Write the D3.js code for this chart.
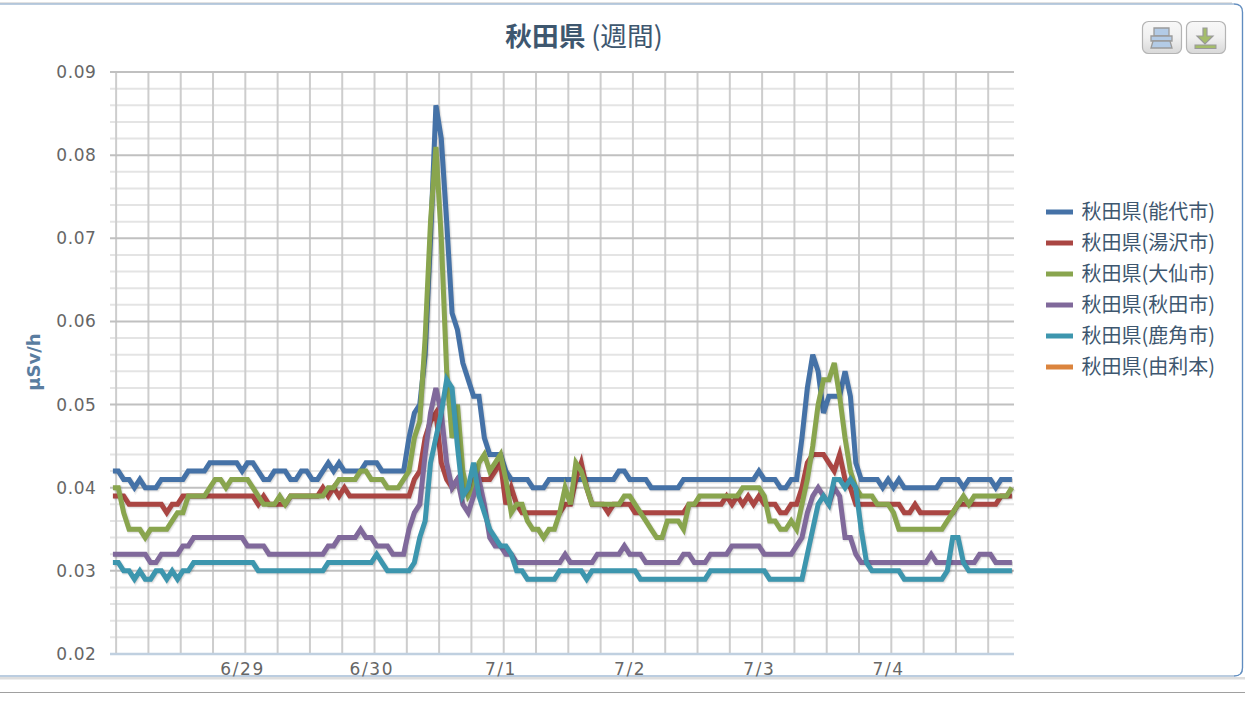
<!DOCTYPE html>
<html><head><meta charset="utf-8">
<script src="https://cdn.jsdelivr.net/npm/d3@7"></script>
<style>
html,body{margin:0;padding:0;background:#fff;overflow:hidden}
svg{display:block}
text{font-family:"DejaVu Sans",sans-serif}
.cjk{font-family:"Noto Sans CJK JP",sans-serif}
</style></head><body>
<svg id="c" width="1245" height="702"></svg>
<script>
const title = "秋田県";
const titleSuffix = " (週間)";
const yAxisTitle = "µSv/h";
const dayLabels = ["6/29","6/30","7/1","7/2","7/3","7/4"];
const yTicks = [0.02,0.03,0.04,0.05,0.06,0.07,0.08,0.09];
const seriesNames = ["秋田県(能代市)","秋田県(湯沢市)","秋田県(大仙市)","秋田県(秋田市)","秋田県(鹿角市)","秋田県(由利本)"];
const seriesColors = ["#4572A7","#AA4643","#89A54E","#80699B","#3D96AE","#DB843D"];
// hourly readings, in units of 0.001 µSv/h
const noshiro = [42,42,41,41,40,41,40,40,40,41,41,41,41,41,42,42,42,42,43,43,43,43,43,43,42,43,43,42,41,41,42,42,42,41,41,42,42,41,41,42,43,42,43,42,42,42,42,43,43,43,42,42,42,42,42,46,49,50,56,70,86,82,72,61,59,55,53,51,51,46,44,44,44,42,41,41,41,41,40,40,40,41,41,41,41,41,41,41,41,41,41,41,41,41,42,42,41,41,41,41,40,40,40,40,40,40,41,41,41,41,41,41,41,41,41,41,41,41,41,41,42,41,41,41,40,40,41,41,46,52,56,54,49,51,51,51,54,51,43,41,41,41,41,40,41,40,41,40,40,40,40,40,40,40,41,41,41,41,40,41,41,41,41,41,40,41,41,41];
const yuzawa = [39,39,39,38,38,38,38,38,38,38,37,38,38,39,39,39,39,39,39,39,39,39,39,39,39,39,39,38,39,38,38,38,38,39,39,39,39,39,39,40,39,40,39,40,39,39,39,39,39,39,39,39,39,39,39,39,41,42,46,48,49,43,41,40,41,40,40,41,41,41,41,42,43,38,40,38,37,37,37,37,37,37,37,37,38,38,41,43,40,38,38,38,37,38,38,38,38,37,37,37,37,37,37,37,37,37,37,38,38,38,38,38,38,38,39,38,39,38,39,38,39,38,38,38,37,37,38,38,40,43,44,44,44,43,42,44,41,40,38,38,38,38,38,38,38,38,38,37,37,38,37,37,37,37,37,37,37,38,38,38,38,38,38,38,38,39,39,39];
const daisen = [40,40,37,35,35,35,34,35,35,35,35,36,37,37,39,39,39,39,40,41,41,40,41,41,41,41,40,39,38,38,38,39,38,39,39,39,39,39,39,39,40,40,41,41,41,41,42,42,41,41,41,40,40,40,41,42,46,48,58,72,81,70,54,46,50,42,39,40,43,44,42,43,44,41,37,38,38,36,35,35,34,35,35,37,40,38,43,42,40,38,38,38,38,38,38,39,39,38,37,36,35,34,34,36,36,36,35,38,38,39,39,39,39,39,39,39,39,40,40,40,40,39,36,36,35,35,36,35,38,41,45,50,53,53,55,51,46,42,40,39,39,39,38,38,38,37,35,35,35,35,35,35,35,35,35,36,37,38,39,38,39,39,39,39,39,39,39,40];
const akita = [32,32,32,32,32,32,32,31,31,32,32,32,32,33,33,34,34,34,34,34,34,34,34,34,34,33,33,33,33,32,32,32,32,32,32,32,32,32,32,32,33,33,34,34,34,34,35,34,34,33,33,33,32,32,32,35,37,38,44,49,52,49,43,40,41,38,37,39,41,38,34,33,33,32,32,31,31,31,31,31,31,31,31,31,32,31,31,31,31,31,32,32,32,32,32,33,32,32,32,31,31,31,31,31,31,31,32,32,31,31,31,32,32,32,32,33,33,33,33,33,33,32,32,32,32,32,32,33,34,37,39,40,39,38,40,39,34,34,32,31,31,31,31,31,31,31,31,31,31,31,31,31,32,31,31,31,31,31,31,31,31,32,32,32,31,31,31,31];
const kazuno = [31,31,30,30,29,30,29,29,30,30,29,30,29,30,30,31,31,31,31,31,31,31,31,31,31,31,31,30,30,30,30,30,30,30,30,30,30,30,30,30,31,31,31,31,31,31,31,31,31,32,31,30,30,30,30,30,31,34,36,43,46,49,53,52,45,39,40,43,39,37,35,34,33,33,32,30,30,29,29,29,29,29,29,30,30,30,30,30,29,30,30,30,30,30,30,30,30,30,29,29,29,29,29,29,29,29,29,29,29,29,29,30,30,30,30,30,30,30,30,30,30,30,29,29,29,29,29,29,29,32,35,38,39,38,41,41,40,41,40,35,31,30,30,30,30,30,30,29,29,29,29,29,29,29,29,30,34,34,31,30,30,30,30,30,30,30,30,30];
const yurihonjo = [];
const allSeries = [noshiro,yuzawa,daisen,akita,kazuno,yurihonjo];

const svg = d3.select("#c");
const x = d3.scaleLinear().domain([0,167]).range([112.9,1011.9]);
const y = d3.scaleLinear().domain([0.02,0.09]).range([654,72]);
const L=110,R=1014;

// page frame
svg.append("rect").attr("x",0).attr("y",2).attr("width",1232).attr("height",2).attr("fill","#e2e2e2");
svg.append("rect").attr("x",0).attr("y",677).attr("width",1245).attr("height",2.5).attr("fill","#dedede");
svg.append("rect").attr("x",0).attr("y",692).attr("width",1245).attr("height",1).attr("fill","#a0a0a0");
svg.append("path").attr("d","M0,4 H1234 Q1242.5,4 1242.5,12 V668 Q1242.5,676 1234,676 H0")
  .attr("fill","#fff").attr("stroke","#a5bdd6").attr("stroke-width",1.3);
svg.append("path").attr("d","M1234,4 Q1242.5,4 1242.5,12 M1242.5,668 Q1242.5,676 1234,676 M1242.5,12 V668")
  .attr("fill","none").attr("stroke","#5f8cc0").attr("stroke-width",1.2);

// grid
const minorY = d3.range(0,36).map(i=>0.02+i*0.002).filter(v=>Math.round(v*1000)%10!==0);
svg.append("g").selectAll("line").data(minorY).join("line")
  .attr("x1",L).attr("x2",R).attr("y1",d=>y(d)).attr("y2",d=>y(d))
  .attr("stroke","#e4e4e4").attr("stroke-width",2);
const majorX = d3.range(0,28).map(k=>0.6+6*k);
svg.append("g").selectAll("line").data(majorX).join("line")
  .attr("x1",d=>x(d)).attr("x2",d=>x(d)).attr("y1",72).attr("y2",654)
  .attr("stroke","#cdcdcd").attr("stroke-width",2);
svg.append("g").selectAll("line").data(yTicks.slice(1)).join("line")
  .attr("x1",L).attr("x2",R).attr("y1",d=>y(d)).attr("y2",d=>y(d))
  .attr("stroke","#c0c0c0").attr("stroke-width",2);
svg.append("line").attr("x1",L).attr("x2",R).attr("y1",654).attr("y2",654).attr("stroke","#c0d0e0").attr("stroke-width",2.4);

// axes labels
const yAxis = d3.axisLeft(y).tickValues(yTicks).tickFormat(d3.format(".2f")).tickSize(0).tickPadding(0);
const gy = svg.append("g").attr("transform","translate(96.5,-0.5)").call(yAxis);
gy.select(".domain").remove();
gy.selectAll("text").attr("fill","#666").attr("font-size",17).attr("letter-spacing",0.6).attr("dy","0.35em")
  .style("font-family",'"DejaVu Sans",sans-serif');
const dayIdx = dayLabels.map((d,i)=>23.9+24*i);
const xAxis = d3.axisBottom(x).tickValues(dayIdx).tickFormat((d,i)=>dayLabels[i]).tickSize(0).tickPadding(0);
const gx = svg.append("g").attr("transform","translate(0.5,663)").call(xAxis);
gx.select(".domain").remove();
gx.selectAll("text").attr("fill","#666").attr("font-size",17).attr("letter-spacing",1.6).attr("dy","0.71em")
  .style("font-family",'"DejaVu Sans",sans-serif');

svg.append("text").attr("transform","translate(39.5,362) rotate(-90)").attr("text-anchor","middle")
  .attr("fill","#5a7da0").attr("font-size",18).attr("font-weight","bold").text(yAxisTitle);

// title
const t = svg.append("text").attr("class","cjk").attr("x",584).attr("y",46).attr("text-anchor","middle")
  .attr("fill","#3E576F").attr("font-size",26.7);
t.append("tspan").attr("font-weight","bold").text(title);
t.append("tspan").attr("font-weight","normal").text(titleSuffix);

// series
const line = d3.line().x((d,i)=>x(i)).y(d=>y(d/1000)).curve(d3.curveLinear);
const sg = svg.append("g");
allSeries.forEach((s,i)=>{
  if(!s.length) return;
  [[7,0.05],[5,0.07],[3,0.1]].forEach(([w,o])=>{
    sg.append("path").datum(s).attr("d",line).attr("fill","none").attr("stroke","#000")
      .attr("stroke-width",w).attr("opacity",o).attr("transform","translate(1,1)");
  });
  sg.append("path").datum(s).attr("d",line).attr("fill","none").attr("stroke",seriesColors[i])
    .attr("stroke-width",5);
});

// legend
const lg = svg.append("g").selectAll("g").data(seriesNames).join("g")
  .attr("transform",(d,i)=>`translate(1046,${212+i*31})`);
lg.append("line").attr("x1",0).attr("x2",27).attr("y1",0).attr("y2",0)
  .attr("stroke",(d,i)=>seriesColors[i]).attr("stroke-width",5);
lg.append("text").attr("class","cjk").attr("x",35.5).attr("y",6.8).attr("fill","#3E576F").attr("font-size",20).text(d=>d);

// buttons
function button(bx,draw){
  const g = svg.append("g").attr("transform",`translate(${bx},21)`);
  const id="bg"+bx;
  const gr=svg.append("defs").append("linearGradient").attr("id",id).attr("x1",0).attr("x2",0).attr("y1",0).attr("y2",1);
  gr.append("stop").attr("offset","0%").attr("stop-color","#f8f8f8");
  gr.append("stop").attr("offset","50%").attr("stop-color","#f0f0f0");
  gr.append("stop").attr("offset","100%").attr("stop-color","#d8d8d8");
  g.append("rect").attr("x",.5).attr("y",.5).attr("width",39).attr("height",32).attr("rx",6)
    .attr("fill",`url(#${id})`).attr("stroke","#b4b4b4").attr("stroke-width",1.2);
  draw(g);
}
button(1142,g=>{
  const st={fill:"#b3cbe6",stroke:"#9a9a9a"};
  [["M12,7H27V15H12Z"],["M9,15H30V20H9Z"],["M11,20H28L30,27H9Z"]].forEach(([d])=>
    g.append("path").attr("d",d).attr("fill",st.fill).attr("stroke",st.stroke).attr("stroke-width",1.3));
});
button(1186,g=>{
  g.append("path").attr("d","M17,7H21V15H27L19,23L11,15H17Z").attr("fill","#a4bd6a").attr("stroke","#9a9a9a").attr("stroke-width",1.2);
  g.append("rect").attr("x",9).attr("y",24).attr("width",21).attr("height",3.5).attr("fill","#a4bd6a").attr("stroke","#9a9a9a").attr("stroke-width",1);
});
</script>
</body></html>
